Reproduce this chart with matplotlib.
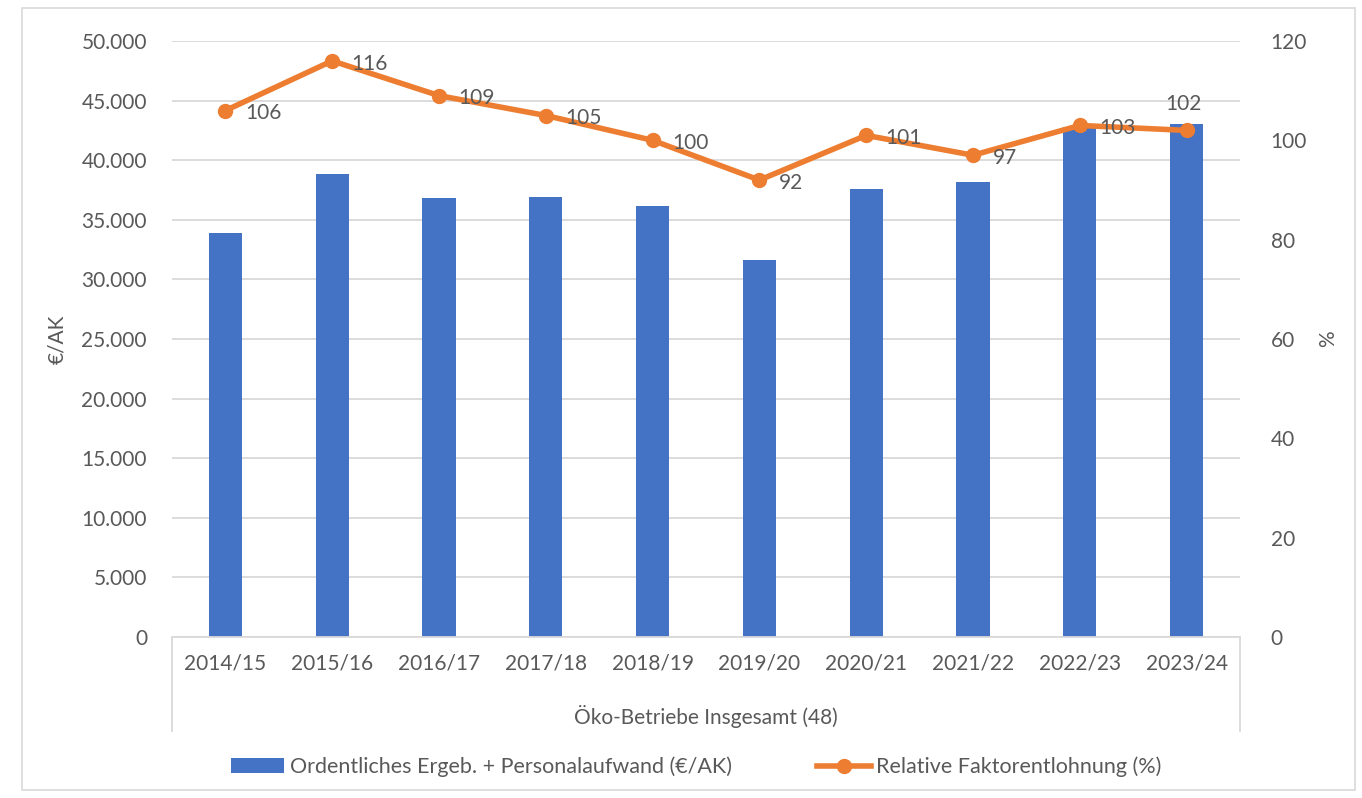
import numpy as np
import matplotlib.pyplot as plt
from matplotlib.lines import Line2D
from matplotlib.patches import Patch, Rectangle
from matplotlib.ticker import FuncFormatter

years = ["2014/15", "2015/16", "2016/17", "2017/18", "2018/19",
         "2019/20", "2020/21", "2021/22", "2022/23", "2023/24"]
einkommen = [33900, 38850, 36830, 36900, 36150, 31650, 37570, 38200, 42800, 43050]
faktor = [106, 116, 109, 105, 100, 92, 101, 97, 103, 102]
gruppe = "Öko-Betriebe Insgesamt (48)"

blue = "#4472C4"
orange = "#ED7D31"
grey = "#595959"
gridc = "#D9D9D9"
fs = 15

plt.rcParams['font.family'] = ['Lato', 'DejaVu Sans']

fig = plt.figure(figsize=(13.62, 7.98), dpi=100)
# Rahmen um das ganze Diagramm
fig.patches.append(Rectangle((22 / 1362, 8 / 798), 1333 / 1362, 782 / 798,
                             transform=fig.transFigure, fill=False,
                             edgecolor=gridc, linewidth=1.2))

ax = fig.add_axes([172 / 1362, 1 - 637 / 798, 1068 / 1362, 596 / 798])
x = np.arange(len(years))
ax.bar(x, einkommen, width=0.31, color=blue, zorder=2)
ax.set_xlim(-0.5, len(years) - 0.5)
ax.set_ylim(0, 50000)
ax.set_yticks(np.arange(0, 50001, 5000))
ax.yaxis.set_major_formatter(FuncFormatter(lambda v, p: f"{int(v):,}".replace(",", ".")))
ax.grid(axis="y", color=gridc, linewidth=1.3, zorder=0)
ax.set_axisbelow(True)
for s in ["top", "right", "left"]:
    ax.spines[s].set_visible(False)
ax.spines["bottom"].set_color(gridc)
ax.spines["bottom"].set_linewidth(1.3)
ax.tick_params(axis="y", length=0, pad=18, labelsize=fs, labelcolor=grey)
ax.tick_params(axis="x", length=0, pad=12, labelsize=fs, labelcolor=grey)
ax.set_xticks(x)
ax.set_xticklabels(years)
ax.set_ylabel("€/AK", fontsize=fs, color=grey, labelpad=10)

# Gruppenachse unter den Jahren
for xe in [-0.5, len(years) - 0.5]:
    ax.plot([xe, xe], [0, -0.157], transform=ax.get_xaxis_transform(),
            color=gridc, linewidth=1.3, clip_on=False)
ax.text(0.5, -0.134, gruppe, transform=ax.transAxes, ha="center", va="center",
        fontsize=fs, color=grey)

ax2 = ax.twinx()
ax2.plot(x, faktor, color=orange, linewidth=4, marker="o", markersize=10, zorder=3)
ax2.set_ylim(0, 120)
ax2.set_yticks(np.arange(0, 121, 20))
for s in ["top", "right", "left", "bottom"]:
    ax2.spines[s].set_visible(False)
ax2.tick_params(axis="y", length=0, pad=22, labelsize=fs, labelcolor=grey)
ax2.set_ylabel("%", fontsize=fs, color=grey, labelpad=8)

for i, v in enumerate(faktor):
    if i == len(faktor) - 1:
        ax2.annotate(str(v), (x[i], v), xytext=(-2, 12), textcoords="offset points",
                     ha="center", va="bottom", fontsize=fs, color=grey)
    else:
        ax2.annotate(str(v), (x[i], v), xytext=(14, -2), textcoords="offset points",
                     ha="left", va="center", fontsize=fs, color=grey)

handles = [Patch(facecolor=blue, edgecolor="none"),
           Line2D([0], [0], color=orange, linewidth=4, marker="o", markersize=10)]
labels = ["Ordentliches Ergeb. + Personalaufwand (€/AK)", "Relative Faktorentlohnung (%)"]
fig.legend(handles, labels, loc="center", bbox_to_anchor=(0.511, 1 - 767 / 798), ncol=2,
           frameon=False, fontsize=15.5, labelcolor=grey, handlelength=2.5,
           handletextpad=0.25, columnspacing=3.95)

fig.savefig("out.png", dpi=100)
